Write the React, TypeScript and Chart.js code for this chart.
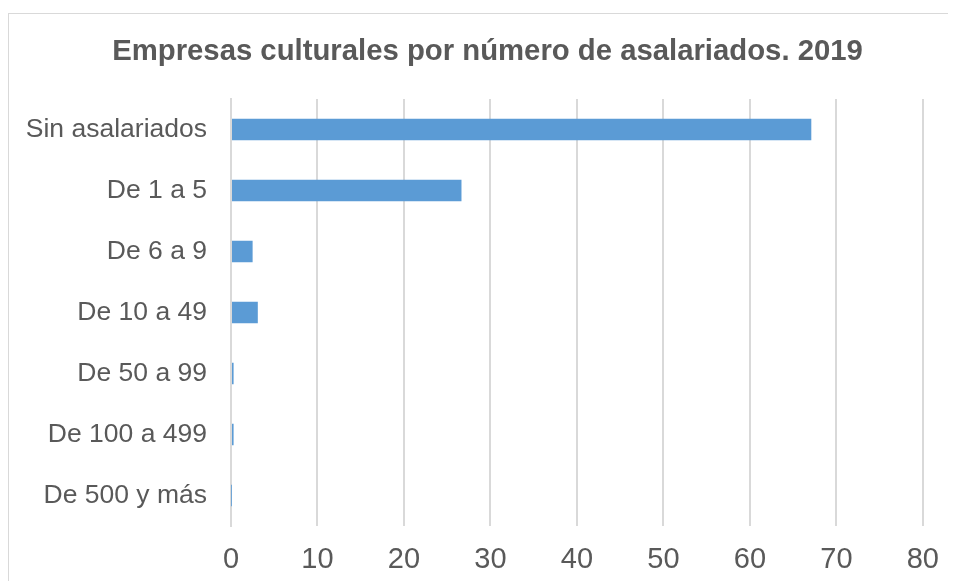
import React, { useEffect, useRef } from "react";
import { Chart, registerables } from "chart.js";

Chart.register(...registerables);

const categories = [
  "Sin asalariados",
  "De 1 a 5",
  "De 6 a 9",
  "De 10 a 49",
  "De 50 a 99",
  "De 100 a 499",
  "De 500 y más",
];
const values = [67.1, 26.65, 2.5, 3.1, 0.3, 0.3, 0.02];
const titleText = "Empresas culturales por número de asalariados. 2019";
const xMin = 0;
const xMax = 80;
const xStep = 10;

const TEXT = "#595959";
const GRID = "#d9d9d9";
const BAR = "#5b9bd5";

const titleShift = {
  id: "titleShift",
  afterLayout(chart: any) {
    const tb = chart.titleBlock;
    if (tb) {
      tb.right = tb.right + 42;
    }
  },
};

export default function App() {
  const ref = useRef<HTMLCanvasElement | null>(null);

  useEffect(() => {
    document.body.style.overflow = "hidden";
    const canvas = ref.current;
    if (!canvas) return;
    const chart = new Chart(canvas, {
      type: "bar",
      data: {
        labels: categories,
        datasets: [
          {
            data: values,
            backgroundColor: BAR,
            borderWidth: 0,
            barPercentage: 0.7,
            categoryPercentage: 0.5,
          },
        ],
      },
      plugins: [titleShift],
      options: {
        indexAxis: "y",
        responsive: false,
        animation: false,
        devicePixelRatio: 1,
        layout: { padding: { left: 0, right: 31, top: 0, bottom: 0 } },
        plugins: {
          legend: { display: false },
          tooltip: { enabled: false },
          title: {
            display: true,
            text: titleText,
            color: TEXT,
            font: { family: "'Liberation Sans', Arial, sans-serif", size: 29.3, weight: "bold", lineHeight: 1.2 },
            padding: { top: 26.4, bottom: 29.4 },
          },
        },
        scales: {
          x: {
            type: "linear",
            position: "bottom",
            min: xMin,
            max: xMax,
            ticks: {
              stepSize: xStep,
              color: TEXT,
              padding: 17,
              font: { family: "'Liberation Sans Narrow', 'Arial Narrow', 'Liberation Sans', sans-serif", size: 29 },
            },
            grid: { color: GRID, lineWidth: 2, drawTicks: false },
            border: { display: false },
            afterFit: (s: any) => {
              s.height = 55;
            },
          },
          y: {
            type: "category",
            ticks: {
              color: TEXT,
              padding: 24,
              font: { family: "'Liberation Sans', Arial, sans-serif", size: 26.5 },
            },
            grid: { display: false, drawTicks: false },
            border: { display: true, color: GRID, width: 2 },
            afterFit: (s: any) => {
              s.width = 223;
            },
          },
        },
      },
    });
    return () => chart.destroy();
  }, []);

  return (
    <div style={{ position: "relative", width: 948, height: 573, overflow: "hidden" }}>
      <div
        style={{
          position: "absolute",
          left: 0,
          top: 5,
          width: 1000,
          height: 1000,
          border: "1px solid #d9d9d9",
          boxSizing: "border-box",
        }}
      />
      <canvas
        ref={ref}
        width={948}
        height={573}
        style={{ position: "absolute", left: 0, top: 0, width: 948, height: 573 }}
      />
    </div>
  );
}
